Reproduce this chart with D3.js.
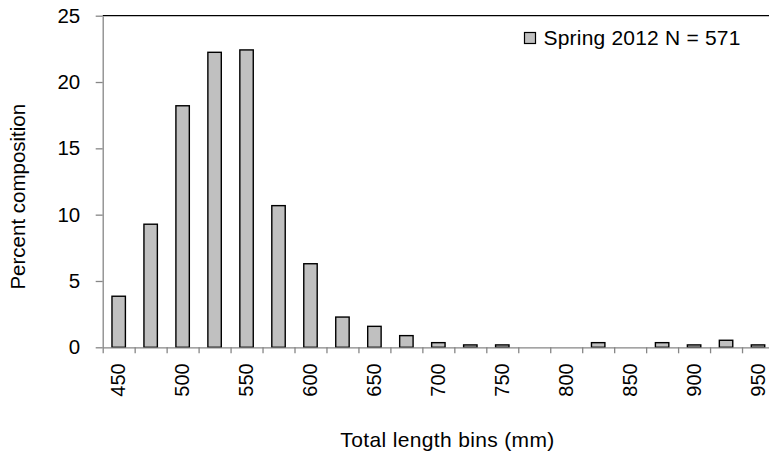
<!DOCTYPE html>
<html>
<head>
<meta charset="utf-8">
<script src="https://cdn.jsdelivr.net/npm/d3@7"></script>
<style>
  html, body { margin: 0; padding: 0; background: #fff; }
  svg { display: block; }
  text { font-family: "Liberation Sans", Arial, sans-serif; fill: #000; }
</style>
</head>
<body>
<svg id="chart" width="769" height="457"></svg>
<script>
// Data
const categories = ["450","475","500","525","550","575","600","625","650","675","700","725","750","775","800","825","850","875","900","925","950"];
const values = [3.85, 9.28, 18.21, 22.24, 22.42, 10.68, 6.30, 2.28, 1.58, 0.88, 0.35, 0.18, 0.18, 0, 0, 0.35, 0, 0.35, 0.18, 0.53, 0.18];
const shownLabels = ["450","500","550","600","650","700","750","800","850","900","950"];
const yTicks = [0, 5, 10, 15, 20, 25];
const seriesName = "Spring 2012 N = 571";
const xTitle = "Total length bins (mm)";
const yTitle = "Percent composition";

const svg = d3.select("#chart");
const pLeft = 102.7, pRight = 774, pTop = 15.7, pBottom = 347.3;

const x = d3.scaleBand().domain(categories).range([pLeft, pRight]).paddingInner(0.58).paddingOuter(0.29);
const xb = d3.scaleLinear().domain([0, categories.length]).range([pLeft, pRight]);
const y = d3.scaleLinear().domain([0, 25]).range([pBottom, pTop]);

const axisColor = "#868686";

// top border
svg.append("line").attr("x1", pLeft).attr("x2", pRight).attr("y1", pTop).attr("y2", pTop)
  .attr("stroke", "#000").attr("stroke-width", 1.3);

// bars
svg.append("g").selectAll("rect").data(values).join("rect")
  .attr("x", (d, i) => x(categories[i]))
  .attr("width", x.bandwidth())
  .attr("y", d => y(d))
  .attr("height", d => pBottom - y(d))
  .attr("fill", "#c0c0c0")
  .attr("stroke", "#000")
  .attr("stroke-width", 1.4)
  .attr("display", d => d > 0 ? null : "none");

// y axis
const gy = svg.append("g").attr("transform", `translate(${pLeft},0)`)
  .call(d3.axisLeft(y).tickValues(yTicks).tickSize(7).tickPadding(15.5).tickSizeOuter(0));
gy.select(".domain").attr("stroke", axisColor).attr("stroke-width", 1.3);
gy.selectAll(".tick line").attr("stroke", axisColor).attr("stroke-width", 1.3);
gy.selectAll(".tick text").attr("font-size", 20.5).attr("font-family", "Liberation Sans, Arial, sans-serif").attr("fill", "#000");

// x axis boundary ticks
const gxb = svg.append("g").attr("transform", `translate(0,${pBottom})`)
  .call(d3.axisBottom(xb).tickValues(d3.range(categories.length + 1)).tickFormat("").tickSize(6).tickSizeOuter(0));
gxb.select(".domain").attr("stroke", axisColor).attr("stroke-width", 1.3);
gxb.selectAll(".tick line").attr("stroke", axisColor).attr("stroke-width", 1.3);

// x axis labels
const gx = svg.append("g").attr("transform", `translate(0,${pBottom})`)
  .call(d3.axisBottom(x).tickValues(shownLabels).tickSize(0).tickPadding(0));
gx.select(".domain").remove();
gx.selectAll(".tick text")
  .attr("font-size", 20).attr("font-family", "Liberation Sans, Arial, sans-serif").attr("fill", "#000")
  .attr("transform", "rotate(-90)")
  .attr("text-anchor", "end")
  .attr("x", -16).attr("y", -0.3).attr("dy", "0.35em");

// axis titles
svg.append("text").attr("x", 447.5).attr("y", 447.3).attr("text-anchor", "middle")
  .attr("font-size", 21).attr("letter-spacing", 0.35).text(xTitle);
svg.append("text").attr("transform", "translate(25,196.7) rotate(-90)").attr("text-anchor", "middle")
  .attr("font-size", 20.5).text(yTitle);

// legend
svg.append("rect").attr("x", 524.5).attr("y", 32.5).attr("width", 11).attr("height", 11)
  .attr("fill", "#c0c0c0").attr("stroke", "#000").attr("stroke-width", 1.2);
svg.append("text").attr("x", 543.5).attr("y", 44.5).attr("font-size", 21).attr("letter-spacing", 0.2).text(seriesName);
</script>
</body>
</html>
